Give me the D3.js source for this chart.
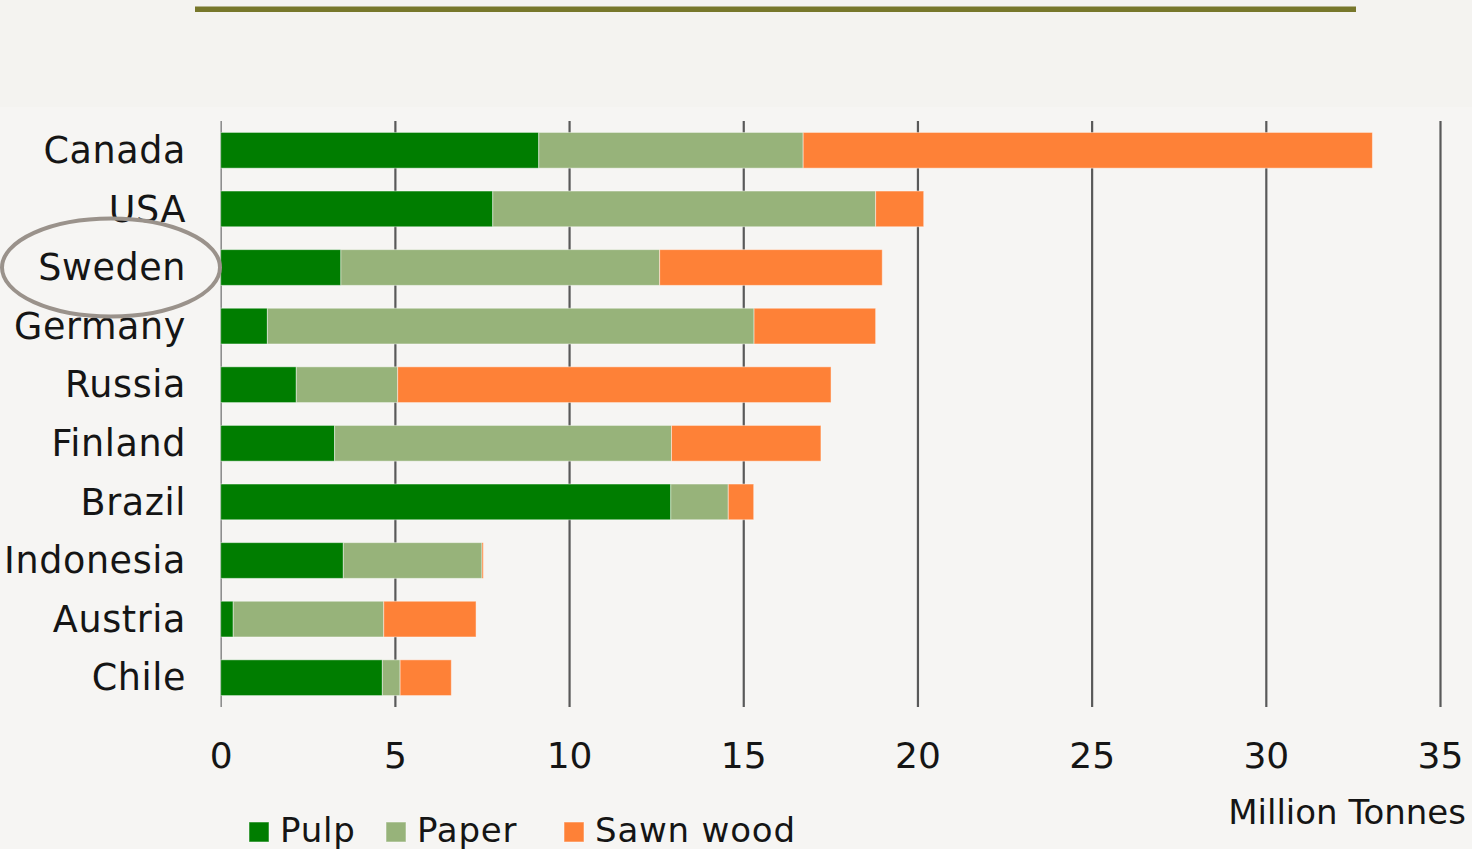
<!DOCTYPE html>
<html>
<head>
<meta charset="utf-8">
<script src="https://cdn.jsdelivr.net/npm/d3@7"></script>
<style>
  html, body { margin: 0; padding: 0; background: #f6f5f3; }
  svg { display: block; }
  text { font-family: "DejaVu Sans", sans-serif; fill: #151515; }
</style>
</head>
<body>
<svg id="chart" width="1472" height="849"></svg>
<script>
// ---- data ----
const categories = ["Canada", "USA", "Sweden", "Germany", "Russia", "Finland", "Brazil", "Indonesia", "Austria", "Chile"];
const seriesNames = ["Pulp", "Paper", "Sawn wood"];
const pulp     = [9.13, 7.81, 3.45, 1.34, 2.17, 3.27, 12.92, 3.52, 0.36, 4.64];
const paper    = [7.59, 10.99, 9.15, 13.97, 2.91, 9.67, 1.65, 3.98, 4.32, 0.51];
const sawnWood = [16.34, 1.38, 6.39, 3.49, 12.44, 4.29, 0.73, 0.04, 2.65, 1.47];
const tickValues = [0, 5, 10, 15, 20, 25, 30, 35];
const axisTitle = "Million Tonnes";
const highlighted = "Sweden";

const colors = ["#007d00", "#97b37a", "#fe8137"];

const rows = categories.map((c, i) => ({ country: c, "Pulp": pulp[i], "Paper": paper[i], "Sawn wood": sawnWood[i] }));
const stacked = d3.stack().keys(seriesNames)(rows);

const svg = d3.select("#chart");

// background bands
svg.append("rect").attr("x", 0).attr("y", 0).attr("width", 1472).attr("height", 849).attr("fill", "#f6f5f3");
svg.append("rect").attr("x", 0).attr("y", 0).attr("width", 1472).attr("height", 107).attr("fill", "#f4f3f0");
// top rule
svg.append("line").attr("x1", 195).attr("x2", 1356).attr("y1", 9.2).attr("y2", 9.2)
  .attr("stroke", "#77772b").attr("stroke-width", 5.5);

const x = d3.scaleLinear().domain([0, 35]).range([220.7, 1440]);
const y = d3.scaleBand().domain(categories).range([121, 707]).paddingInner(0.39).paddingOuter(0.195);

// gridlines + tick labels via axis
const axis = svg.append("g").attr("transform", "translate(0,707)")
  .call(d3.axisBottom(x).tickValues(tickValues).tickSize(-(707 - 121)).tickFormat(d3.format("d")));
axis.select(".domain").remove();
axis.selectAll(".tick line")
  .attr("stroke", d => d === 0 ? "#8e8e8e" : "#595959")
  .attr("stroke-width", d => d === 0 ? 1.6 : 2.2);
axis.selectAll(".tick text")
  .attr("y", 61).attr("dy", 0)
  .attr("font-size", 36).attr("font-family", "DejaVu Sans, sans-serif").attr("fill", "#151515");

// bars
svg.append("g").selectAll("g").data(stacked).join("g")
  .attr("fill", (d, i) => colors[i])
  .selectAll("rect").data(d => d).join("rect")
  .attr("x", d => x(d[0]))
  .attr("y", d => y(d.data.country))
  .attr("width", d => Math.max(0, x(d[1]) - x(d[0])))
  .attr("height", y.bandwidth())
  .attr("stroke", "rgba(255,255,255,0.45)")
  .attr("stroke-width", 1);

// category labels
svg.append("g").selectAll("text").data(categories).join("text")
  .attr("x", 186)
  .attr("y", d => y(d) + y.bandwidth() / 2)
  .attr("dy", "0.35em")
  .attr("text-anchor", "end")
  .attr("font-size", 36.5)
  .attr("letter-spacing", 0.6)
  .text(d => d);

// highlight ellipse
svg.append("ellipse")
  .attr("cx", 111).attr("cy", y(highlighted) + y.bandwidth() / 2)
  .attr("rx", 109).attr("ry", 49)
  .attr("fill", "none").attr("stroke", "#9a928b").attr("stroke-width", 4);

// axis title
svg.append("text").attr("x", 1466).attr("y", 824).attr("text-anchor", "end")
  .attr("font-size", 34).text(axisTitle);

// legend
const legendX = [249, 386, 564];
const lg = svg.append("g").selectAll("g").data(seriesNames).join("g")
  .attr("transform", (d, i) => `translate(${legendX[i]},822)`);
lg.append("rect").attr("width", 20).attr("height", 20).attr("fill", (d, i) => colors[i])
  .attr("stroke", "rgba(255,255,255,0.5)").attr("stroke-width", 1);
lg.append("text").attr("x", 31).attr("y", 20).attr("font-size", 34).attr("letter-spacing", 0.8).text(d => d);
</script>
</body>
</html>
